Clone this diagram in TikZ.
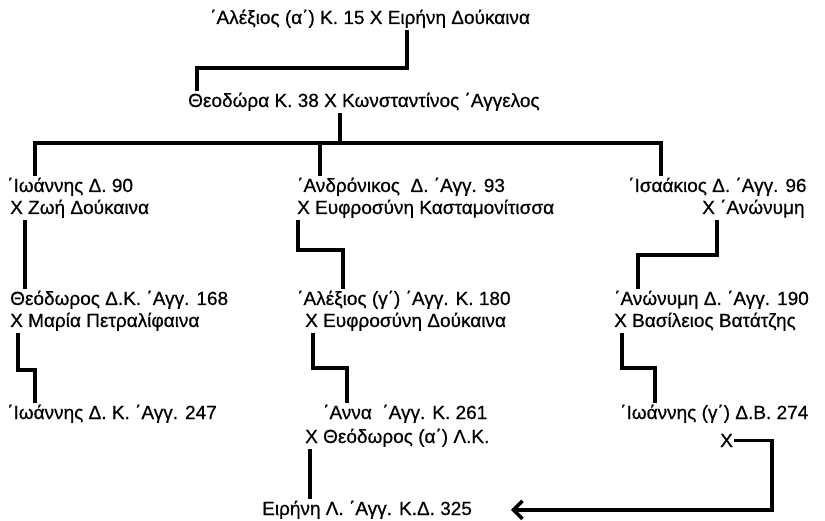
\documentclass[tikz,border=0pt]{standalone}
\usepackage{fontspec}
\setmainfont{Liberation Sans}[FakeBold=0.6]
\usetikzlibrary{arrows.meta,calc}
\begin{document}
\begin{tikzpicture}[x=1pt,y=-1pt,
  txt/.style={anchor=base west,inner sep=0pt,outer ysep=2pt,font=\fontsize{19}{22}\selectfont},
  conn/.style={line width=3.5pt,line join=miter,draw=black}]
\useasboundingbox[fill=white] (0,0) rectangle (825,521);
% texts
\node[txt] (t0) at (210,24) {΄Αλέξιος (α΄) Κ. 15 Χ Ειρήνη Δούκαινα};
\node[txt] (t1) at (188,107) {Θεοδώρα Κ. 38 Χ Κωνσταντίνος ΄Αγγελος};
\node[txt] (a1) at (7,192) {΄Ιωάννης Δ. 90};
\node[txt] (a2) at (10,214) {Χ Ζωή Δούκαινα};
\node[txt] (b1) at (297,192) {΄Ανδρόνικος \ Δ. ΄Αγγ. 93};
\node[txt] (b2) at (297,214) {Χ Ευφροσύνη Κασταμονίτισσα};
\node[txt] (c1) at (628,192) {΄Ισαάκιος Δ. ΄Αγγ. 96};
\node[txt] (c2) at (702,214) {Χ ΄Ανώνυμη};
\node[txt] (d1) at (10,305) {Θεόδωρος Δ.Κ. ΄Αγγ. 168};
\node[txt] (d2) at (10,327) {Χ Μαρία Πετραλίφαινα};
\node[txt] (e1) at (297,305) {΄Αλέξιος (γ΄) ΄Αγγ. Κ. 180};
\node[txt] (e2) at (305,327) {Χ Ευφροσύνη Δούκαινα};
\node[txt] (f1) at (614,305) {΄Ανώνυμη Δ. ΄Αγγ. 190};
\node[txt] (f2) at (614,327) {Χ Βασίλειος Βατάτζης};
\node[txt] (g1) at (7,419) {΄Ιωάννης Δ. Κ. ΄Αγγ. 247};
\node[txt] (h1) at (323,419) {΄Αννα \ ΄Αγγ. Κ. 261};
\node[txt] (h2) at (305,443) {Χ Θεόδωρος (α΄) Λ.Κ.};
\node[txt] (i1) at (620,419) {΄Ιωάννης (γ΄) Δ.Β. 274};
\node[txt] (i2) at (720,447) {Χ};
\node[txt] (j1) at (262,515) {Ειρήνη Λ. ΄Αγγ. Κ.Δ. 325};
% connectors
\draw[conn] (t0.south -| 407,0) -- (407,68) -| (t1.north -| 197,0);
\draw[conn] (t1.south -| 340,0) -- (340,143);
\draw[conn] (a1.north -| 35,0) |- (661,143) -- (c1.north -| 661,0);
\draw[conn] (320,143) -- (b1.north -| 320,0);
\draw[conn] (a2.south -| 25,0) -- (d1.north -| 25,0);
\draw[conn] (b2.south -| 298,0) |- (343,250) -- (e1.north -| 343,0);
\draw[conn] (c2.south -| 717,0) |- (638,255) -- (f1.north -| 638,0);
\draw[conn] (d2.south -| 18,0) |- (35,370) -- (g1.north -| 35,0);
\draw[conn] (e2.south -| 313,0) |- (347,368) -- (h1.north -| 347,0);
\draw[conn] (f2.south -| 622,0) |- (655,368) -- (i1.north -| 655,0);
\draw[conn] (h2.south -| 310,0) -- (j1.north -| 310,0);
\coordinate (tip) at (j1.east -| 511,0);
\draw[conn,-{Straight Barb[length=9pt,width=18pt]}] ([xshift=1pt]i2.east) -| (772,0 |- tip) -- (tip);
\end{tikzpicture}
\end{document}
